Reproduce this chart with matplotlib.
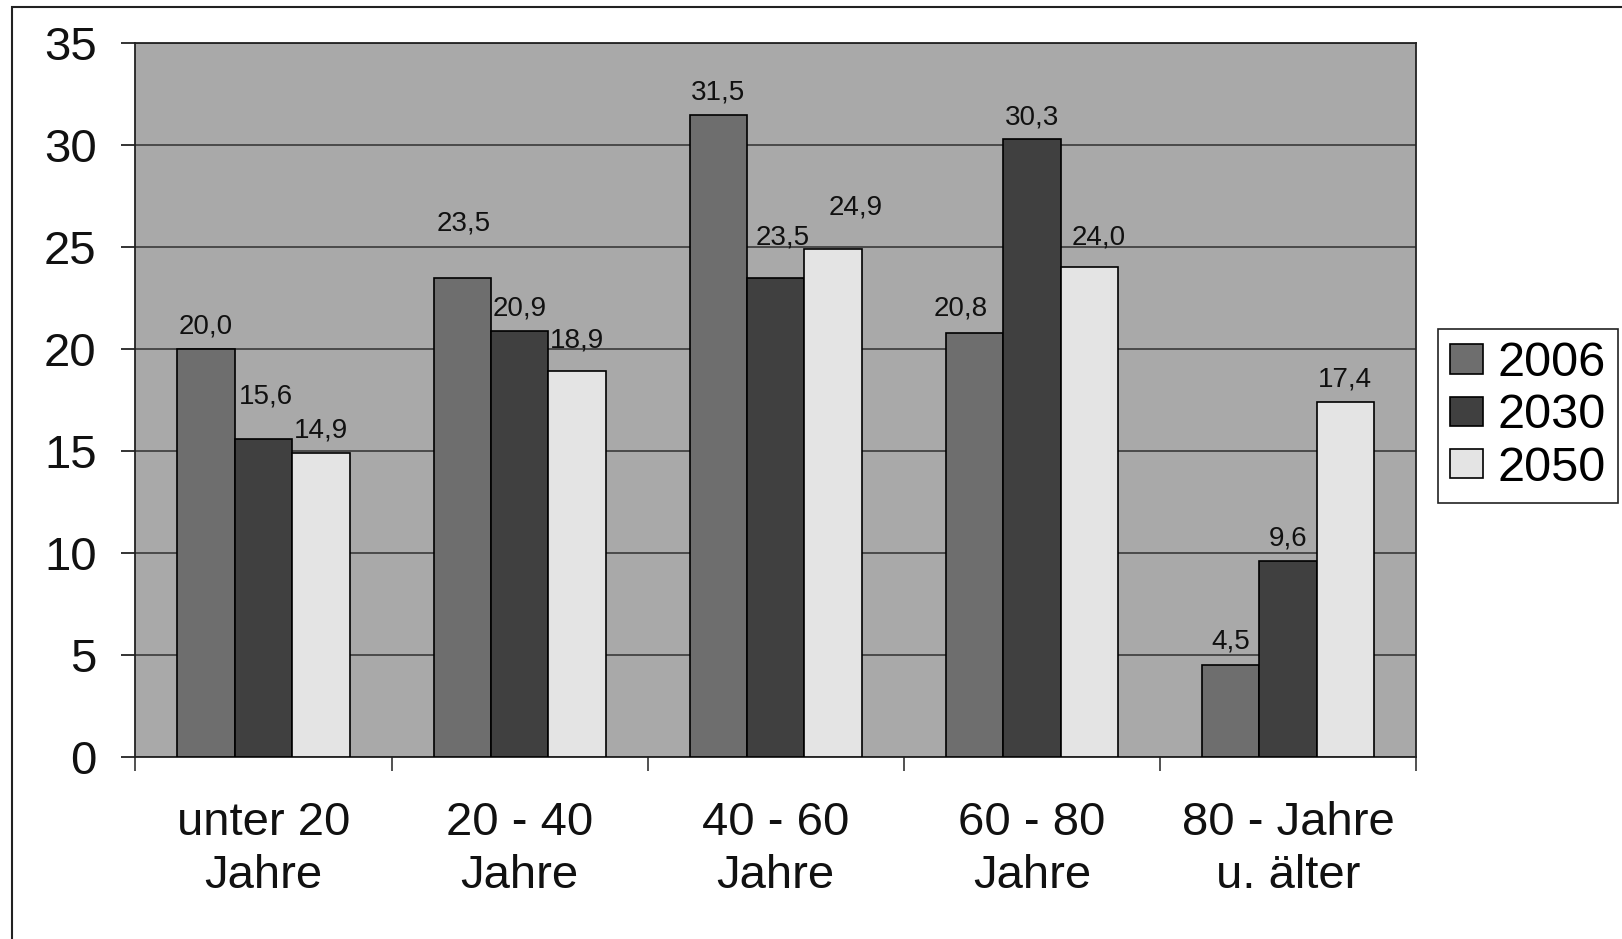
import numpy as np
import matplotlib
matplotlib.use("Agg")
import matplotlib.pyplot as plt
from matplotlib.patches import Rectangle

# Bevoelkerung nach Altersgruppen (Anteil in %)
categories = ["unter 20\nJahre", "20 - 40\nJahre", "40 - 60\nJahre", "60 - 80\nJahre", "80 - Jahre\nu. älter"]
years = ["2006", "2030", "2050"]
v2006 = [20.0, 23.5, 31.5, 20.8, 4.5]
v2030 = [15.6, 20.9, 23.5, 30.3, 9.6]
v2050 = [14.9, 18.9, 24.9, 24.0, 17.4]

# label offsets in pixels (dx, dy) as placed in the original
offsets = [
    [(0, 23), (1, 54), (0, 22), (-14, 24), (0, 24)],
    [(2, 42), (0, 22), (7, 40), (0, 22), (0, 23)],
    [(0, 23), (0, 31), (23, 42), (9, 30), (0, 23)],
]

colors = ["#6e6e6e", "#404040", "#e4e4e4"]

plt.rcParams["font.family"] = ["Liberation Sans", "DejaVu Sans"]

fig = plt.figure(figsize=(16.22, 9.39), dpi=100)
ax = fig.add_axes([0.0835, 0.194, 0.873 - 0.0835, 0.954 - 0.194])
ax.set_facecolor("#a9a9a9")

x = np.arange(len(categories))
w = 0.224
series = [v2006, v2030, v2050]
for i, vals in enumerate(series):
    bars = ax.bar(x + (i - 1) * w, vals, width=w, color=colors[i],
                  edgecolor="black", linewidth=1.2, label=years[i], zorder=3)
    for j, b in enumerate(bars):
        dx, dy = offsets[i][j]
        ax.annotate(f"{vals[j]:.1f}".replace(".", ","),
                    (b.get_x() + b.get_width() / 2, b.get_height()),
                    xytext=(dx, dy), textcoords="offset pixels",
                    ha="center", va="center", fontsize=20, color="#111111", zorder=4)

ax.set_xlim(-0.5, 4.5)
ax.set_ylim(0, 35)
ax.set_yticks(range(0, 36, 5))
ax.yaxis.grid(True, color="#3a3a3a", linewidth=1.2, zorder=1)
ax.tick_params(axis="y", labelsize=34, length=10, width=1.2, pad=18, colors="#111111")

ax.set_xticks(x)
ax.set_xticklabels(categories, fontsize=34, linespacing=1.25)
ax.set_xticks(np.arange(-0.5, 5, 1), minor=True)
ax.tick_params(axis="x", which="major", length=0, pad=32, colors="#111111")
ax.tick_params(axis="x", which="minor", length=10, width=1.2, color="#333333")

for s in ax.spines.values():
    s.set_color("#222222")
    s.set_linewidth(1.3)

leg = fig.legend(loc="upper left", bbox_to_anchor=(1438 / 1622, 1 - 329 / 939),
                 fontsize=35, handlelength=0.68, handleheight=0.55, handletextpad=0.3,
                 borderpad=0.25, labelspacing=0.15, borderaxespad=0,
                 fancybox=False, framealpha=1)
leg.get_frame().set_edgecolor("#222222")
leg.get_frame().set_linewidth(1.2)

# outer frame of the scanned chart
fig.patches.append(Rectangle((12 / 1622, -0.1), 1.2, 1 - 7 / 939 + 0.1,
                             transform=fig.transFigure, fill=False,
                             edgecolor="#222222", linewidth=1.5))

fig.savefig("out.png", dpi=100)
